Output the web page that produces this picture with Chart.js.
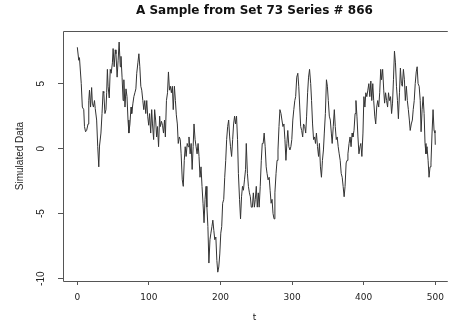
<!DOCTYPE html>
<html>
<head>
<meta charset="utf-8">
<script src="https://cdn.jsdelivr.net/npm/chart.js@4/dist/chart.umd.min.js"></script>
<style>
  html, body { margin: 0; padding: 0; background: #fff; overflow: hidden; }
  canvas { display: block; }
</style>
</head>
<body>
<canvas id="chart" width="451" height="326"></canvas>
<script>
// textos y marcas de los ejes
const titleText = "A Sample from Set 73 Series # 866";
const xLabel = "t";
const yLabel = "Simulated Data";
const xTicks = [0, 100, 200, 300, 400, 500];
const yTicks = [-10, -5, 0, 5];

// serie (t, valor)
const tVals = [0, 2, 3, 5.5, 7, 9, 10, 11.5, 13, 15, 16, 17, 18.5, 20, 21, 22.5, 24, 25, 27, 28.5,
  30, 31, 33, 34.5, 36, 37, 38.6, 40, 41, 42, 43, 44.6, 46, 47.3, 49, 50, 51.5, 53, 54, 55.6,
  57, 58.4, 60, 61, 62.5, 64, 65, 66.6, 68, 69.4, 70.8, 72, 73.5, 75, 76, 77.7, 79, 80.4, 81.8, 83,
  84.6, 86, 87.3, 88.7, 90, 91.5, 92.8, 94.2, 95.6, 97, 98.3, 99.7, 101, 102.5, 103.9, 105, 106.6, 108, 109.4, 110.8,
  112, 113.5, 115, 116, 117.6, 119, 120.4, 121.8, 123, 124.5, 126, 127.3, 128.7, 130, 131.4, 132.8, 134, 135.6, 137, 138.3,
  139.7, 141, 142.5, 143.8, 145, 146.6, 148, 149.4, 150.7, 152, 153.5, 154.9, 156, 157.6, 159, 160.4, 161.8, 163, 164.5, 165.9,
  167.3, 168.7, 170, 171.4, 172.8, 174.2, 175.6, 177, 178.4, 179.8, 181, 182.4, 183.8, 185.3, 186.6, 188, 189.3, 190.7, 192, 193.5,
  194.9, 196.2, 197.6, 199, 200.4, 201.7, 203, 204.5, 205.9, 207.3, 208.6, 210, 211.4, 212.8, 214, 215.5, 217, 218.3, 219.7, 221,
  222.4, 223.8, 225, 226.6, 228, 229.4, 230.7, 232, 233.5, 235, 236, 237.6, 239, 240.4, 241.7, 243, 244.5, 245.9, 247.3, 248.6,
  250, 251.4, 252.8, 254, 255.5, 257, 258.3, 259.6, 261, 262.4, 263.8, 265, 266.5, 268, 269.3, 270.7, 272, 273.4, 274.8, 276,
  277.6, 279, 280.3, 281.7, 283, 284.5, 285.8, 287.2, 288.6, 290, 291.4, 292.7, 294, 295.5, 297, 298.3, 299.6, 301, 302.4, 303.8,
  305, 306.5, 308, 309.3, 310.7, 312, 313.4, 314.8, 316, 317.6, 319, 320.3, 321.7, 323, 324.4, 326, 327.2, 328.6, 330, 331.4,
  332.7, 334, 335.5, 337, 338.2, 339.6, 341, 342.4, 343.8, 345, 346.5, 348, 349.3, 350.6, 352, 353.4, 354.8, 356, 357.5, 359,
  360.3, 361.7, 363, 364.4, 365.8, 367.2, 368.6, 370, 371.3, 372.7, 374, 375.5, 376.8, 378, 379.6, 381, 382.4, 383.8, 385, 386.5,
  388, 389.2, 390.6, 392, 393.4, 394.8, 396, 397.5, 399, 400.3, 401.7, 403, 404.4, 405.8, 407.2, 408.6, 410, 411.3, 412.7, 414,
  415.5, 416.8, 418.2, 419.6, 421, 422.4, 423.8, 425, 426.5, 428, 429.2, 430.6, 432, 433.4, 434.7, 436, 437.5, 439, 440.3, 441.6,
  443, 444.4, 445.8, 447.2, 448.5, 450, 451.3, 452.7, 454, 455.5, 456.9, 458.2, 459.6, 461, 462.4, 463.8, 465, 466.5, 468, 469.2,
  470.6, 472, 473.4, 474.7, 476, 477.5, 479, 480.2, 481.6, 483, 484.4, 485.7, 487, 488.5, 490, 491.3, 492.7, 494, 495.5, 496.9,
  498.3, 499.6, 500];
const yVals = [7.8, 6.8, 7.0, 5.0, 3.2, 3.0, 1.7, 1.3, 1.4, 1.9, 3.7, 4.5, 3.2, 4.7, 3.5, 3.2, 3.7, 3.1, 2.2, 0.15,
  -1.4, 0.2, 1.2, 2.7, 4.4, 4.3, 2.7, 3.0, 4.3, 6.1, 4.8, 3.9, 6.1, 5.8, 6.6, 7.7, 6.3, 7.6, 7.3, 5.5,
  6.8, 8.2, 6.3, 7.1, 5.5, 3.7, 5.3, 3.2, 4.6, 4.0, 2.2, 1.2, 1.9, 3.2, 2.7, 3.5, 4.0, 4.3, 4.6, 5.8,
  6.6, 7.3, 6.3, 4.8, 4.5, 3.7, 3.0, 3.7, 2.7, 3.7, 2.5, 1.8, 2.7, 1.2, 3.0, 1.9, 0.7, 3.0, 2.2, 0.9,
  1.7, 0.15, 2.5, 1.7, 2.1, 1.8, 1.2, 2.2, 0.9, 3.7, 4.3, 5.9, 4.5, 4.8, 4.3, 4.8, 3.0, 4.8, 3.7, 2.6,
  1.9, 0.4, 0.9, 0.7, -0.4, -2.4, -2.9, -0.9, 0.15, -0.6, 0.4, 0.15, 0.9, -0.4, 0.4, -1.6, 0.15, 1.9, 0.7, 0.15,
  -0.4, 0.4, -0.6, -2.2, -1.4, -2.9, -4.2, -5.7, -3.9, -2.9, -4.5, -6.0, -8.8, -7.0, -6.5, -6.0, -5.5, -6.3, -7.0, -6.8,
  -8.6, -9.5, -9.1, -8.1, -6.5, -6.0, -4.2, -3.9, -2.2, -0.9, 0.7, 1.7, 2.2, 0.9, 0.15, -0.6, 0.7, 1.9, 2.5, 1.9,
  2.5, 0.7, -1.9, -3.9, -5.4, -3.7, -2.9, -3.2, -2.4, -1.6, 0.4, -1.9, -2.9, -3.4, -3.7, -4.5, -4.5, -3.4, -4.5, -3.9,
  -2.9, -4.5, -3.4, -4.5, -2.9, -0.9, 0.4, 0.4, 1.2, 0.15, -1.4, -1.9, -2.4, -2.2, -3.2, -4.2, -3.9, -5.0, -5.4, -3.4,
  -1.9, -0.9, -0.1, 1.7, 3.0, 2.7, 2.2, 1.7, 1.9, 0.7, -0.9, 0.4, 1.4, 0.15, -0.1, 0.15, 0.7, 2.2, 3.0, 3.7,
  4.0, 5.5, 5.8, 4.8, 3.2, 1.7, 1.4, 0.9, 1.9, 1.7, 1.2, 2.5, 4.3, 5.5, 6.1, 5.0, 3.7, 1.9, 0.7, 0.9,
  0.4, 1.2, 0.15, -0.6, 0.4, -1.4, -2.2, -0.9, -0.1, 1.2, 2.7, 5.3, 4.8, 3.7, 2.5, 2.2, 1.2, 0.4, 1.7, 3.0,
  1.7, 0.7, 0.9, 0.15, -0.4, -0.9, -1.9, -2.2, -2.9, -3.7, -2.9, -1.1, -0.9, -0.4, 0.4, 0.9, 0.15, 1.2, 0.9, 1.4,
  2.7, 3.7, 2.5, 0.9, -0.4, 0.15, 0.4, -0.6, 1.2, 4.0, 3.2, 4.3, 4.0, 4.5, 5.0, 4.0, 5.2, 3.7, 5.0, 3.7,
  2.5, 1.9, 3.2, 3.7, 3.2, 4.3, 6.1, 5.3, 6.1, 4.5, 3.5, 4.3, 3.7, 3.2, 4.3, 3.7, 4.0, 2.7, 3.5, 5.3,
  7.5, 6.6, 4.8, 3.7, 2.3, 4.3, 6.2, 5.0, 4.8, 6.1, 5.3, 3.7, 4.8, 3.7, 3.0, 2.2, 1.4, 1.9, 2.2, 3.0,
  3.7, 5.0, 5.9, 6.3, 5.0, 4.8, 3.7, 1.3, 3.0, 4.0, 2.7, 0.4, -0.4, 0.15, -0.9, -2.2, -1.4, -1.1, 1.2, 3.0,
  1.4, 1.2, 0.3];

const inkColor = "#222";
const boxColor = "#555";

// caja estilo R (abierta a la derecha, queda fuera del lienzo)
const boxPlugin = {
    id: "rBox",
    afterDraw(chart) {
        const { ctx, chartArea: a } = chart;
        ctx.save();
        ctx.strokeStyle = boxColor;
        ctx.lineWidth = 1;
        ctx.beginPath();
        ctx.moveTo(a.right + 2, a.top + 0.5);
        ctx.lineTo(a.left + 0.5, a.top + 0.5);
        ctx.lineTo(a.left + 0.5, a.bottom + 0.5);
        ctx.lineTo(a.right + 2, a.bottom + 0.5);
        ctx.stroke();
        ctx.restore();
    }
};

const points = tVals.map((t, i) => ({ x: t, y: yVals[i] }));

new Chart(document.getElementById("chart"), {
    type: "line",
    data: {
        datasets: [{
            data: points,
            borderColor: "#333",
            borderWidth: 1,
            pointRadius: 0,
            tension: 0,
            fill: false
        }]
    },
    options: {
        responsive: false,
        animation: false,
        layout: { padding: 0 },
        plugins: {
            legend: { display: false },
            tooltip: { enabled: false },
            title: {
                display: true,
                text: titleText,
                fullSize: false,
                color: "#111",
                font: { family: "'DejaVu Sans'", size: 12, weight: "bold" },
                padding: { top: 4, bottom: 12.6 }
            }
        },
        scales: {
            x: {
                type: "linear",
                min: -20,
                max: 514.7,
                afterFit: s => { s.height = 45; },
                afterBuildTicks: s => { s.ticks = xTicks.map(v => ({ value: v })); },
                grid: { drawOnChartArea: false, tickLength: 4, color: boxColor },
                border: { display: false },
                ticks: {
                    color: inkColor,
                    padding: 7,
                    maxRotation: 0,
                    font: { family: "'DejaVu Sans'", size: 9 }
                },
                title: {
                    display: true,
                    text: xLabel,
                    color: inkColor,
                    font: { family: "'DejaVu Sans'", size: 9 },
                    padding: { top: 3, bottom: 3 }
                }
            },
            y: {
                type: "linear",
                min: -10.18,
                max: 9.05,
                afterFit: s => { s.width = 63; },
                afterBuildTicks: s => { s.ticks = yTicks.map(v => ({ value: v })); },
                grid: { drawOnChartArea: false, tickLength: 5, color: boxColor },
                border: { display: false },
                ticks: {
                    color: inkColor,
                    padding: 9.5,
                    crossAlign: "center",
                    minRotation: 90,
                    maxRotation: 90,
                    font: { family: "'Liberation Sans'", size: 10 }
                },
                title: {
                    display: true,
                    text: yLabel,
                    color: inkColor,
                    font: { family: "'Liberation Sans Narrow', 'Liberation Sans'", size: 10 },
                    padding: { top: 14, bottom: 0 }
                }
            }
        }
    },
    plugins: [boxPlugin]
});
</script>
</body>
</html>
